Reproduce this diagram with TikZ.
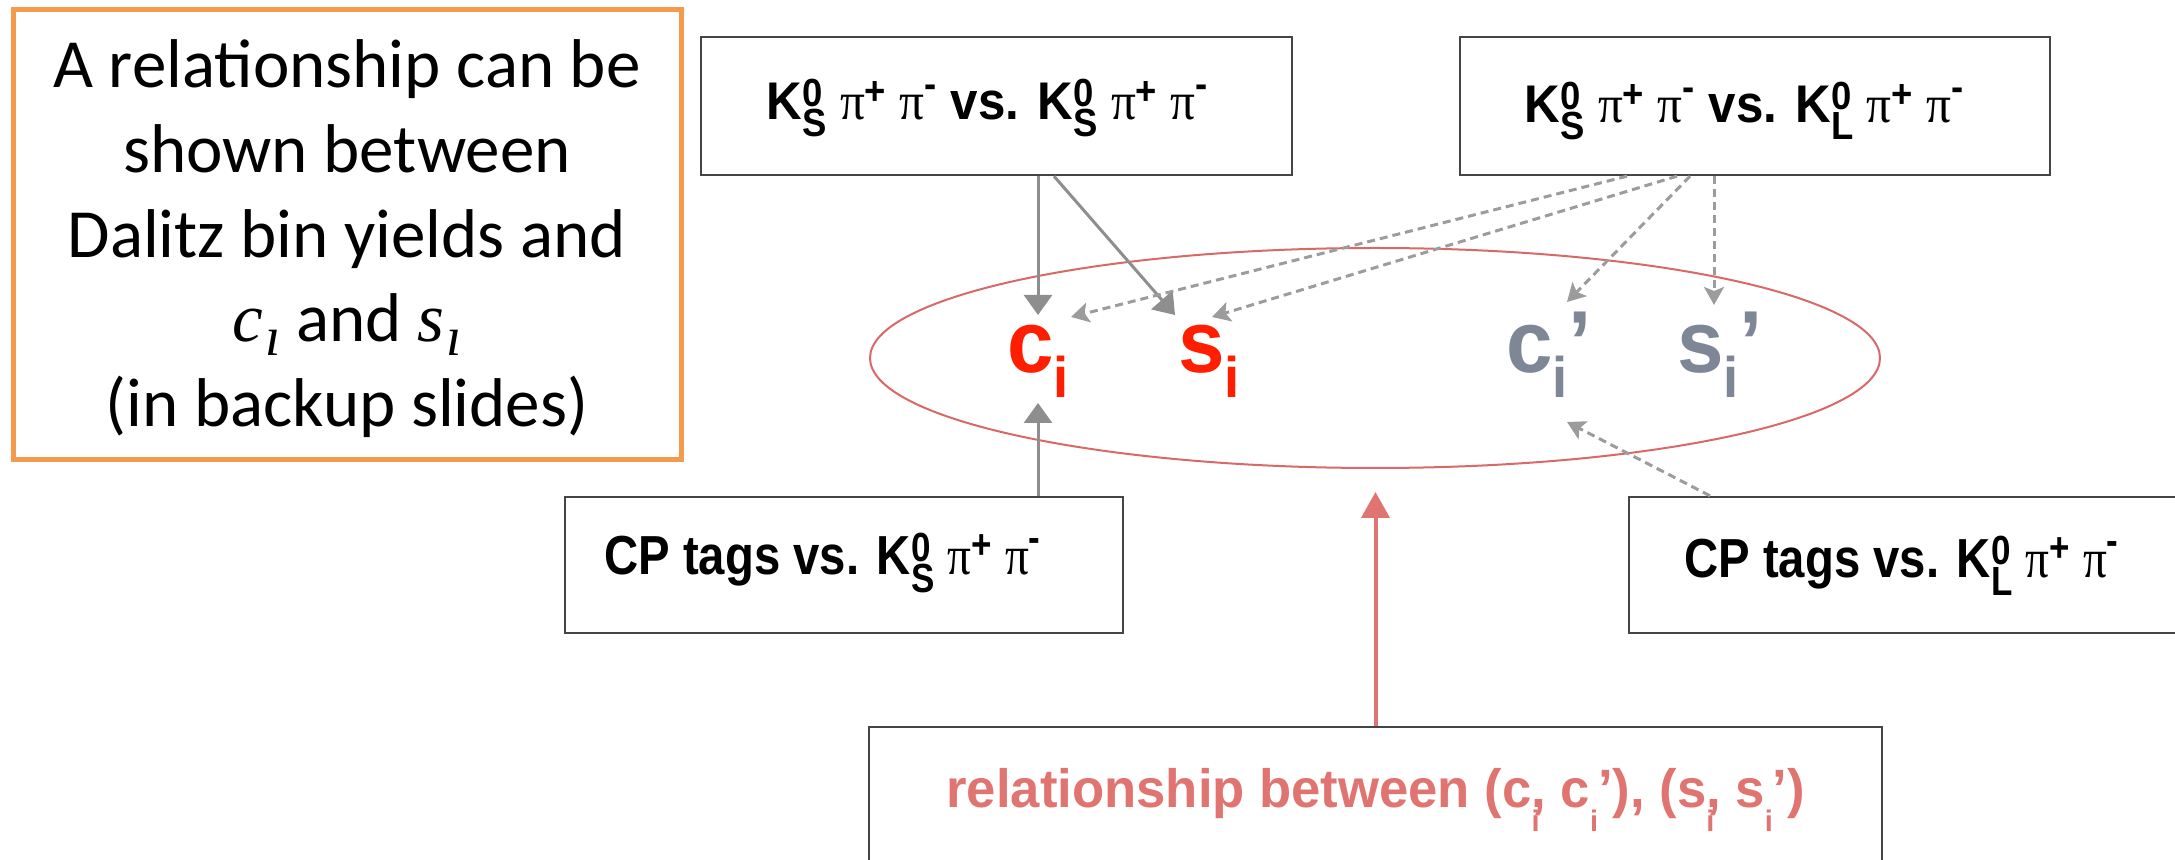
\documentclass[tikz,border=0pt]{standalone}
\usepackage{fontspec}
\usepackage{graphicx}
\setmainfont{Liberation Sans}
\newfontfamily\serifpi{Liberation Serif}
\newfontfamily\notefont{Carlito}
\usetikzlibrary{shapes.geometric,arrows.meta,calc}

\definecolor{boxline}{HTML}{454545}
\definecolor{orangeline}{HTML}{F39A4C}
\definecolor{ellred}{HTML}{D96868}
\definecolor{relred}{HTML}{E07470}
\definecolor{arrgray}{HTML}{8E8E8E}
\definecolor{dashgray}{HTML}{9C9C9C}
\definecolor{cired}{HTML}{FF1E00}
\definecolor{cigray}{HTML}{7D8796}

% K^0 with a stacked S/L subscript, pi with a raised charge
\newcommand\smallup[1]{\scalebox{0.74}{#1}}
\newcommand\Kzero[1]{K\rlap{\raisebox{0.25em}{\smallup{0}}}\raisebox{-0.31em}{\smallup{#1}}}
\newcommand\piup[1]{{\serifpi\mdseries π}\raisebox{0.3em}{\smallup{#1}}}
\newcommand\pim{{\serifpi\mdseries π}\raisebox{0.42em}{\smallup{-}}}
% lowered index for the c_i / s_i symbols
\newcommand\lowi{\raisebox{-0.28em}{\scalebox{0.65}{i}}}
\newcommand\relsub{\raisebox{-0.45em}{\scalebox{0.55}{i}}}
% italic symbol with index i in the note
\newcommand\noteidx[1]{{\serifpi\itshape #1\kern0.03em\raisebox{-0.2em}{\scalebox{0.8}{ı}}}}
% narrower setting of the sans labels
\newcommand\narrow[2]{\scalebox{#1}[1]{#2}}

\tikzset{
  chanbox/.style={draw=boxline, line width=1.2pt, inner sep=0pt},
  chantext/.style={anchor=base west, inner sep=0pt, font=\bfseries\fontsize{26.5}{30}\selectfont},
  cptext/.style={anchor=base west, inner sep=0pt, font=\bfseries\fontsize{27.5}{30}\selectfont},
  notetext/.style={anchor=base, inner sep=0pt, font=\notefont\fontsize{34.5}{42}\selectfont},
  coef/.style={anchor=base west, inner sep=0pt, font=\bfseries\fontsize{44}{48}\selectfont},
  solidarr/.style={draw=arrgray, line width=1.5pt, -{Triangle[length=10pt,width=14pt]}},
  dasharr/.style={draw=dashgray, line width=1.5pt, dash pattern=on 4pt off 2.5pt,
                  -{Stealth[length=9pt,width=10pt,inset=2pt]}},
  relarr/.style={draw=relred, line width=2pt, -{Triangle[length=13pt,width=14pt]}}
}

\begin{document}
\begin{tikzpicture}[x=0.5pt,y=-0.5pt]
\useasboundingbox (0,0) rectangle (2175,860);

% note box on the left
\node[draw=orangeline, line width=2.5pt, minimum width=334pt, minimum height=225pt, inner sep=0pt]
  (note) at (347.5,234.5) {};
\node[notetext] (n1) at (347,88)  {A relationship can be};
\node[notetext] (n2) at (347,173) {shown between};
\node[notetext] (n3) at (347,258) {Dalitz bin yields and};
\node[notetext] (n4) at (347,342) {\noteidx{c} and \noteidx{s}};
\node[notetext] (n5) at (347,427) {(in backup slides)};

% measurement boxes
\node[chanbox, minimum width=295.5pt, minimum height=69pt] (tl) at (996.5,106) {};
\node[chantext] (tltext) at (766,120)
  {\narrow{0.93}{\Kzero{S} \piup{+} \pim{} vs. \Kzero{S} \piup{+} \pim}};

\node[chanbox, minimum width=295pt, minimum height=69pt] (tr) at (1755,106) {};
\node[chantext] (trtext) at (1524,123)
  {\narrow{0.93}{\Kzero{S} \piup{+} \pim{} vs. \Kzero{L} \piup{+} \pim}};

\node[chanbox, minimum width=279pt, minimum height=68pt] (cps) at (844,565) {};
\node[cptext] (cpstext) at (604,575) {\narrow{0.86}{CP tags vs. \Kzero{S} \piup{+} \pim}};

\node[chanbox, minimum width=286pt, minimum height=68pt] (cpl) at (1915,565) {};
\node[cptext] (cpltext) at (1684,578) {\narrow{0.86}{CP tags vs. \Kzero{L} \piup{+} \pim}};

\node[chanbox, minimum width=506.5pt, minimum height=86.5pt] (rel) at (1375.5,813.5) {};
\node[anchor=base west, inner sep=0pt, text=relred, font=\bfseries\fontsize{27}{30}\selectfont]
  (reltext) at (946,807)
  {\narrow{0.975}{relationship between (c\rlap{\relsub}, c\relsub’), (s\rlap{\relsub}, s\relsub’)}};

% strong-phase parameters
\node[draw=ellred, line width=1pt, ellipse, minimum width=505pt, minimum height=110pt, inner sep=0pt]
  (ell) at (1375,358) {};
\node[coef, text=cired]  (ci)  at (1007,373) {\narrow{0.95}{c\lowi}};
\node[coef, text=cired]  (si)  at (1178,373) {\narrow{0.95}{s\lowi}};
\node[coef, text=cigray] (cip) at (1506,373) {\narrow{0.95}{c\lowi’}};
\node[coef, text=cigray] (sip) at (1677,373) {\narrow{0.95}{s\lowi’}};

% arrow tips
\coordinate (ciT)  at (1038,315);
\coordinate (siT)  at (1175,315);
\coordinate (ciB)  at (1038,403);
\coordinate (ciD)  at (1071,317);
\coordinate (siD)  at (1212,317);
\coordinate (cipT) at (1567,302);
\coordinate (sipT) at (1714,305);
\coordinate (cipB) at (1567,422);
\coordinate (ellB) at (1375.5,492);

% connectors
\draw[solidarr] ($(tl.south)+(41.5,0)$) -- (ciT);
\draw[solidarr] ($(tl.south)+(57.5,0)$) -- (siT);
\draw[solidarr] ($(cps.north)+(194,0)$) -- (ciB);

\draw[dasharr] ($(tr.south)+(-128,0)$) -- (ciD);
\draw[dasharr] ($(tr.south)+(-78,0)$) -- (siD);
\draw[dasharr] ($(tr.south)+(-65,0)$) -- (cipT);
\draw[dasharr] ($(tr.south)+(-41,0)$) -- (sipT);
\draw[dasharr] ($(cpl.north)+(-205,0)$) -- (cipB);

\draw[relarr] (rel.north) -- (ellB);
\end{tikzpicture}
\end{document}
